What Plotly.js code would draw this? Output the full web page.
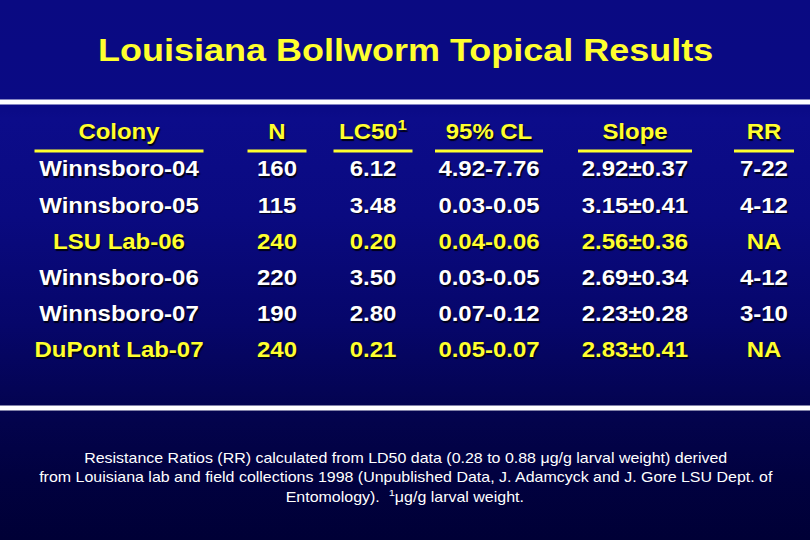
<!DOCTYPE html>
<html>
<head>
<meta charset="utf-8">
<script src="https://cdn.plot.ly/plotly-3.0.1.min.js"></script>
<style>
  html, body { margin:0; padding:0; width:810px; height:540px; overflow:hidden;
    background: linear-gradient(to bottom, #0a0a82 0%, #0a0a84 19%, #0c0c8a 22%, #0a0a80 40%, #06066a 60%, #03034c 78%, #010140 88%, #000036 100%); }
  #wrap { width:720px; height:540px; transform: scaleX(1.125); transform-origin: 0 0; }
</style>
</head>
<body>
<div id="wrap"><div id="chart" style="width:720px;height:540px;"></div></div>
<script>
// ---- data ----
const headers  = ["Colony", "N", "LC50<sup>1</sup>", "95% CL", "Slope", "RR"];
const colonies = ["Winnsboro-04", "Winnsboro-05", "LSU Lab-06", "Winnsboro-06", "Winnsboro-07", "DuPont Lab-07"];
const nValues  = ["160", "115", "240", "220", "190", "240"];
const lc50     = ["6.12", "3.48", "0.20", "3.50", "2.80", "0.21"];
const cl95     = ["4.92-7.76", "0.03-0.05", "0.04-0.06", "0.03-0.05", "0.07-0.12", "0.05-0.07"];
const slope    = ["2.92±0.37", "3.15±0.41", "2.56±0.36", "2.69±0.34", "2.23±0.28", "2.83±0.41"];
const rr       = ["7-22", "4-12", "NA", "4-12", "3-10", "NA"];
const labColony = [false, false, true, false, false, true];
const titleText = "Louisiana Bollworm Topical Results";
const footLines = [
  "Resistance Ratios (RR) calculated from LD50 data (0.28 to 0.88 μg/g larval weight) derived",
  "from Louisiana lab and field collections 1998 (Unpublished Data, J. Adamcyck and J. Gore LSU Dept. of",
  "Entomology).  <sup>1</sup>μg/g larval weight."
];

// ---- layout constants ----
const SX = 1.125;
const columns = [colonies, nValues, lc50, cl95, slope, rr];
const colCenters810 = [119, 277, 373, 489, 635, 764];
const ulHalf810 = [84.5, 29.5, 39.5, 54, 57, 30];
const headerY = 134, rowStep = 36.2, underlineY = 151;
const YELLOW = "#ffff2e", WHITE = "#ffffff";

const traces = columns.map((col, c) => {
  const text = [headers[c]].concat(col);
  const ys = text.map((_, i) => headerY + i * rowStep + (i > 0 ? 0.8 : 0));
  const colors = text.map((_, i) => (i === 0 || labColony[i - 1]) ? YELLOW : WHITE);
  return {
    type: "scatter", mode: "text",
    x: text.map(() => colCenters810[c] / SX), y: ys, text: text,
    textposition: "middle center",
    textfont: { family: "Liberation Sans, Arial, sans-serif", size: 21.3, weight: "bold",
                color: colors, shadow: "1px 2px 1px #000018" },
    hoverinfo: "skip", showlegend: false, cliponaxis: false
  };
});

const shapes = [
  { type: "line", xref: "paper", yref: "y", x0: 0, x1: 1, y0: 102, y1: 102, line: { color: "#ffffff", width: 5 } },
  { type: "line", xref: "paper", yref: "y", x0: 0, x1: 1, y0: 408, y1: 408, line: { color: "#ffffff", width: 5 } }
].concat(colCenters810.map((cx, c) => ({
  type: "line", xref: "x", yref: "y", x0: (cx - ulHalf810[c]) / SX, x1: (cx + ulHalf810[c]) / SX,
  y0: underlineY, y1: underlineY, line: { color: YELLOW, width: 3 }
})));

const annotations = [
  { text: titleText, xref: "x", yref: "y", x: 360, y: 50, showarrow: false,
    font: { family: "Liberation Sans, Arial, sans-serif", size: 32, weight: "bold", color: YELLOW } }
].concat(footLines.map((t, i) => ({
  text: t, xref: "x", yref: "y", x: 360, y: 458 + i * 19.2, showarrow: false,
  font: { family: "Liberation Sans, Arial, sans-serif", size: 14.2, color: "#ffffff" }
})));

const layout = {
  width: 720, height: 540,
  margin: { l: 0, r: 0, t: 0, b: 0 },
  paper_bgcolor: "rgba(0,0,0,0)", plot_bgcolor: "rgba(0,0,0,0)",
  xaxis: { range: [0, 720], visible: false, fixedrange: true },
  yaxis: { range: [540, 0], visible: false, fixedrange: true },
  shapes: shapes, annotations: annotations, showlegend: false
};

Plotly.newPlot("chart", traces, layout, { displayModeBar: false, staticPlot: true });
</script>
</body>
</html>
